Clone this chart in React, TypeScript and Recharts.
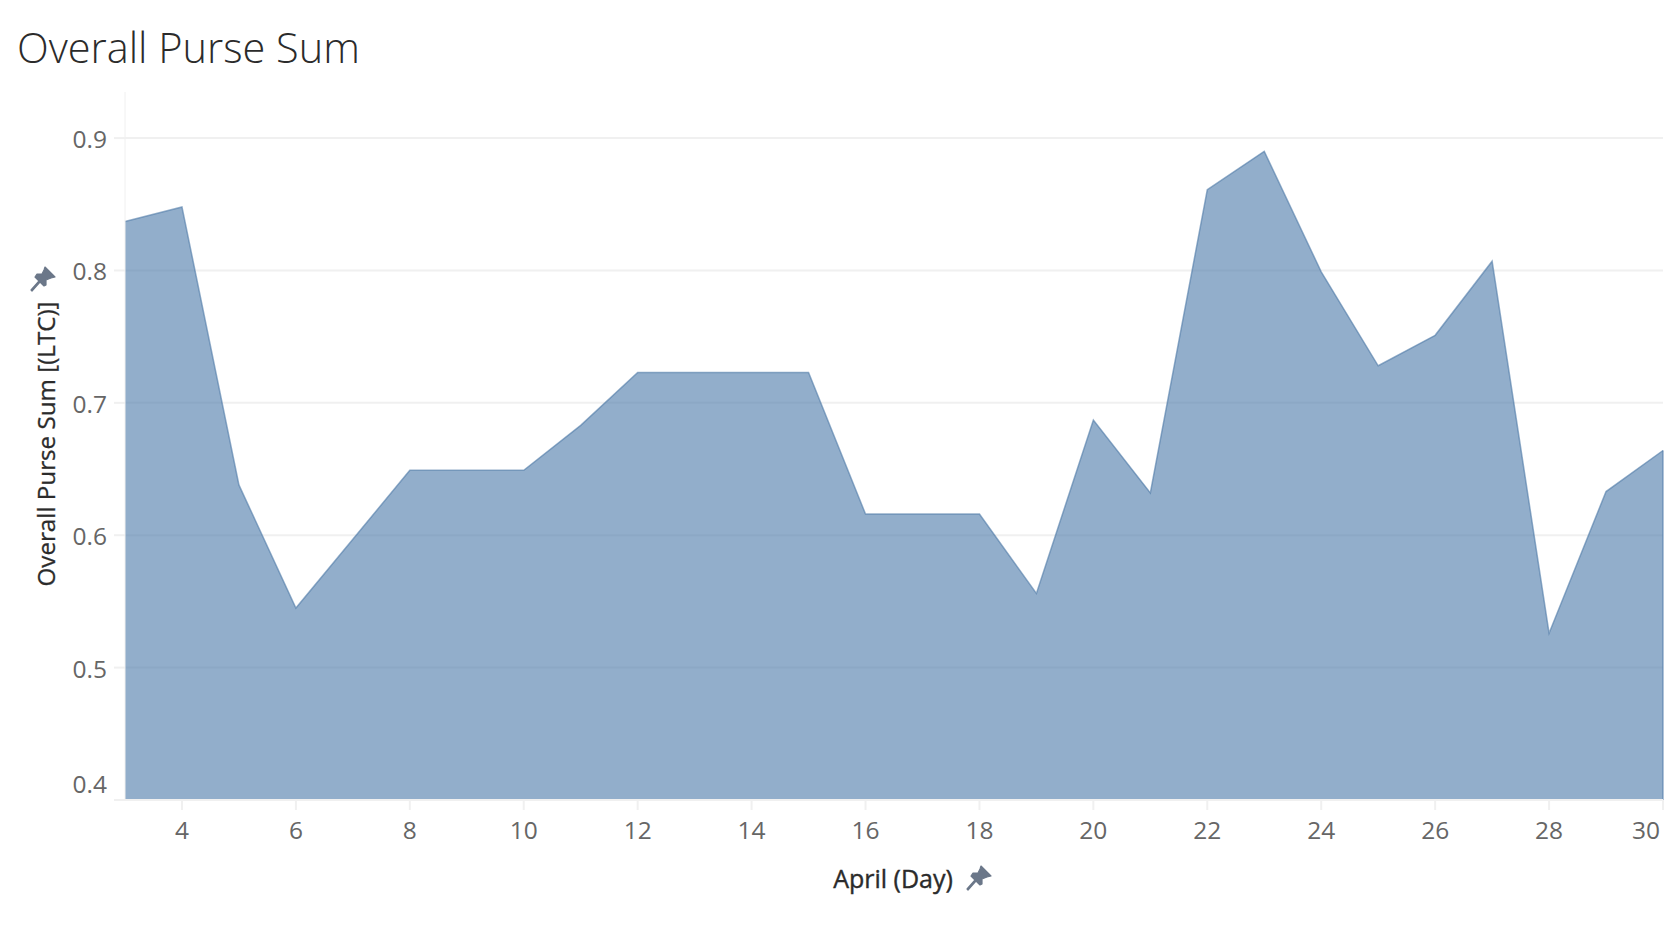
import React from "react";
import { AreaChart, Area, XAxis, YAxis, CartesianGrid, ReferenceLine } from "recharts";

const days = [3, 4, 5, 6, 7, 8, 9, 10, 11, 12, 13, 14, 15, 16, 17, 18, 19, 20, 21, 22, 23, 24, 25, 26, 27, 28, 29, 30];
const purse = [0.837, 0.848, 0.638, 0.545, 0.597, 0.649, 0.649, 0.649, 0.683, 0.723, 0.723, 0.723, 0.723, 0.616, 0.616, 0.616, 0.556, 0.687, 0.632, 0.861, 0.890, 0.799, 0.728, 0.751, 0.807, 0.526, 0.633, 0.664];
const xTicks = [4, 6, 8, 10, 12, 14, 16, 18, 20, 22, 24, 26, 28, 30];
const yTicks = [0.4, 0.5, 0.6, 0.7, 0.8, 0.9];
const title = "Overall Purse Sum";
const xTitle = "April (Day)";
const yTitle = "Overall Purse Sum [(LTC)]";

const data = days.map((day, i) => ({ day, purse: purse[i] }));
const FONT = "'Open Sans', sans-serif";
const GRID = "#f0f0f0";

const Pin = ({ x, y }: { x: number; y: number }) => (
  <g transform={`translate(${x},${y})`} fill="#6b7789" stroke="#6b7789" strokeWidth={1.2} strokeLinejoin="round">
    <path d="M2,-12 L12,-2 L8,-1 L3,1 L3,6 L1,7 L-3,3 L-11,12 L-12,11 L-4,2 L-8,-2 L-6,-5 L-1,-5 L1,-9 Z" />
  </g>
);

const XTick = (props: any) => {
  const { x, y, payload } = props;
  const last = payload.value === 30;
  return (
    <text x={last ? x - 3 : x} y={y + 27} textAnchor={last ? "end" : "middle"} fontFamily={FONT} fontSize={24.5} fill="#666666">
      {payload.value}
    </text>
  );
};

const YTick = (props: any) => {
  const { x, y, payload } = props;
  const bottom = payload.value === 0.4;
  return (
    <text x={x - 5} y={(bottom ? y - 16 : y + 1) + 9} textAnchor="end" fontFamily={FONT} fontSize={24.5} fill="#666666">
      {payload.value.toFixed(1)}
    </text>
  );
};

const XTitle = () => (
  <g>
    <text x={893} y={888} textAnchor="middle" fontFamily={FONT} fontWeight={500} fontSize={25} fill="#2b2b2b" stroke="#2b2b2b" strokeWidth={0.4}>{xTitle}</text>
    <Pin x={979} y={878} />
  </g>
);

const YTitle = () => (
  <g>
    <text transform="translate(55,444) rotate(-90)" textAnchor="middle" fontFamily={FONT} fontSize={24.2} fill="#2b2b2b" stroke="#2b2b2b" strokeWidth={0.3}>{yTitle}</text>
    <Pin x={43} y={279} />
  </g>
);

export default function App() {
  return (
    <div style={{ position: "absolute", left: 0, top: 0, width: 1678, height: 926, background: "#fff", overflow: "hidden" }}>
      <div style={{ position: "absolute", left: 17, top: 20, fontFamily: FONT, fontWeight: 300, fontSize: 41.5, lineHeight: "54px", color: "#2b2b2b", whiteSpace: "nowrap" }}>
        {title}
      </div>
      <AreaChart width={1678} height={926} data={data} margin={{ top: 92, right: 15, bottom: 0, left: 0 }}>
        <CartesianGrid vertical={false} stroke={GRID} strokeWidth={2} horizontalValues={yTicks} />
        <XAxis
          dataKey="day"
          type="number"
          domain={[3, 30]}
          ticks={xTicks}
          interval={0}
          height={126}
          axisLine={{ stroke: GRID, strokeWidth: 2 }}
          tickLine={{ stroke: GRID, strokeWidth: 2 }}
          tickSize={10}
          tick={<XTick />}
          label={<XTitle />}
        />
        <YAxis
          type="number"
          domain={[0.4, 0.9348]}
          allowDataOverflow
          ticks={yTicks}
          interval={0}
          width={125}
          axisLine={{ stroke: GRID, strokeWidth: 1 }}
          tickLine={{ stroke: GRID, strokeWidth: 2 }}
          tickSize={11}
          tick={<YTick />}
          label={<YTitle />}
        />
        <Area
          type="linear"
          dataKey="purse"
          isAnimationActive={false}
          fill="#4a78a9"
          fillOpacity={0.6}
          stroke="#4e79a7"
          strokeOpacity={0.6}
          strokeWidth={1.5}
          dot={false}
          activeDot={false}
        />
        <ReferenceLine
          segment={[{ x: 30, y: 0.4 }, { x: 30, y: purse[purse.length - 1] }]}
          stroke="#4e79a7"
          strokeOpacity={0.6}
          strokeWidth={1.5}
        />
      </AreaChart>
    </div>
  );
}
